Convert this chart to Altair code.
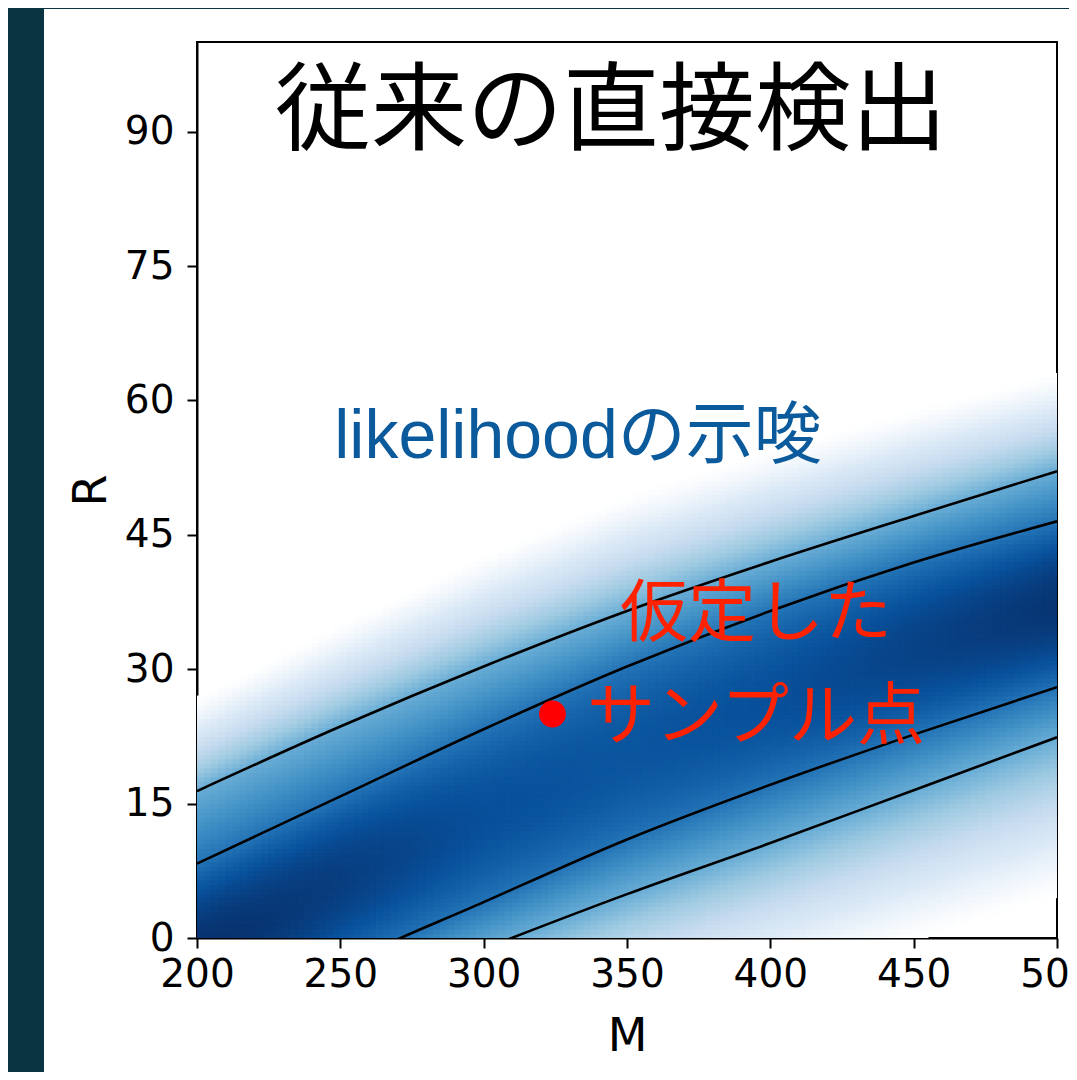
import numpy as np
import pandas as pd
import altair as alt

# ---- values ----
M_ticks = [200, 250, 300, 350, 400, 450, 500]
R_ticks = [0, 15, 30, 45, 60, 75, 90]

# contour lines, read at these M values (parts below R=0 are hidden by the axis)
M_knots = [200, 250, 300, 350, 400, 450, 500]
A_R = [16.4, 23.6, 30.3, 36.5, 42.0, 47.1, 52.1]     # upper outer
B_R = [8.3, 15.8, 23.3, 30.3, 36.5, 41.9, 46.5]      # upper inner
C_R = [-13.0, -3.2, 4.0, 11.0, 17.1, 22.7, 28.0]     # lower inner
D_R = [-19.0, -7.5, -1.2, 4.9, 10.6, 16.5, 22.4]     # lower outer

# shading: darkest level on the ridge, levels at the
# contours, and how far the light blue reaches beyond the outer contours
peak_level = [1.0, 0.95, 0.88, 0.86, 0.88, 0.93, 0.98]
inner_level = 0.74
outer_level = 0.51
fade_up = [10.5, 11.5, 12.5, 13.0, 12.5, 12.0, 11.0]
fade_down = [15.0, 15.0, 15.0, 15.0, 16.0, 17.0, 18.0]

sample_M = [324]
sample_R = [25]

title_text = "従来の直接検出"
blue_text = "likelihoodの示唆"
red_lines = ["仮定した", "サンプル点"]

blues = ["#ffffff", "#deebf7", "#c6dbef", "#9ecae1", "#6baed6",
         "#4292c6", "#2171b5", "#08519c", "#08306b"]

# ---- heat grid ----
dM, dR = 2.5, 0.5
Ms = np.arange(200, 500, dM)
Rs = np.arange(0, 100, dR)
MM, RR = np.meshgrid(Ms, Rs)
mc = MM + dM / 2
rc = RR + dR / 2
a = np.interp(mc, M_knots, A_R)
b = np.interp(mc, M_knots, B_R)
cc = np.interp(mc, M_knots, C_R)
d = np.interp(mc, M_knots, D_R)
pk = np.interp(mc, M_knots, peak_level)
fu = np.interp(mc, M_knots, fade_up)
fd = np.interp(mc, M_knots, fade_down)
mid = (b + cc) / 2

# upper side
u = np.clip((rc - mid) / (b - mid), 0, None)
v_in = pk - (pk - inner_level) * u ** 2
w = np.clip((rc - b) / (a - b), 0, 1)
v_band = inner_level + (outer_level - inner_level) * w
x = np.clip((rc - a) / fu, 0, 1)
v_out = outer_level * (1 - x) ** 1.3
v_up = np.where(u <= 1, v_in, np.where(rc <= a, v_band, v_out))

# lower side
u2 = np.clip((mid - rc) / (mid - cc), 0, None)
v_in2 = pk - (pk - inner_level) * u2 ** 2
w2 = np.clip((cc - rc) / (cc - d), 0, 1)
v_band2 = inner_level + (outer_level - inner_level) * w2
x2 = np.clip((d - rc) / fd, 0, 1)
v_out2 = outer_level * (1 - x2) ** 1.3
v_dn = np.where(u2 <= 1, v_in2, np.where(rc >= d, v_band2, v_out2))

v = np.clip(np.where(rc >= mid, v_up, v_dn), 0, 1)

heat = pd.DataFrame({"M": MM.ravel(), "R": RR.ravel(), "v": np.round(v.ravel(), 3)})
heat = heat[heat.v > 0.002]

xscale = alt.Scale(domain=[200, 500], nice=False, zero=False)
yscale = alt.Scale(domain=[0, 100], nice=False, zero=False)
cscale = alt.Scale(domain=list(np.linspace(0, 1, 9)), range=blues, clamp=True,
                   interpolate="rgb")

xaxis = alt.Axis(values=M_ticks, title="M", grid=False, labelFlush=False,
                 labelPadding=7, titlePadding=20)
yaxis = alt.Axis(values=R_ticks, title="R", grid=False, labelFlush=False,
                 labelPadding=13, titlePadding=9)

heat_layer = alt.Chart(heat).mark_rect(strokeWidth=1, clip=True).transform_calculate(
    M2=f"datum.M + {dM}", R2=f"datum.R + {dR}"
).encode(
    x=alt.X("M:Q", scale=xscale, axis=xaxis),
    x2="M2:Q",
    y=alt.Y("R:Q", scale=yscale, axis=yaxis),
    y2="R2:Q",
    fill=alt.Fill("v:Q", scale=cscale, legend=None),
    stroke=alt.Stroke("v:Q", scale=cscale, legend=None),
)

cont = pd.concat([
    pd.DataFrame({"M": M_knots, "R": A_R, "curve": "A"}),
    pd.DataFrame({"M": M_knots, "R": B_R, "curve": "B"}),
    pd.DataFrame({"M": M_knots, "R": C_R, "curve": "C"}),
    pd.DataFrame({"M": M_knots, "R": D_R, "curve": "D"}),
])
lines = alt.Chart(cont).mark_line(color="black", strokeWidth=2.6,
                                  interpolate="monotone", clip=True).encode(
    x=alt.X("M:Q", scale=xscale), y=alt.Y("R:Q", scale=yscale), detail="curve:N")

dot = alt.Chart(pd.DataFrame({"M": sample_M, "R": sample_R})).mark_circle(
    size=720, color="#ff0000", opacity=1).encode(
    x=alt.X("M:Q", scale=xscale), y=alt.Y("R:Q", scale=yscale))

texts = pd.DataFrame({
    "M": [344.4, 332.9, 395, 395],
    "R": [88.8, 53.6, 33.7, 22.2],
    "label": [title_text, blue_text, red_lines[0], red_lines[1]],
    "kind": ["title", "blue", "red", "red"],
})

title_layer = alt.Chart(texts[texts.kind == "title"]).mark_text(
    font="Noto Sans CJK JP", fontSize=96, align="center", baseline="alphabetic",
    color="black").encode(x=alt.X("M:Q", scale=xscale), y=alt.Y("R:Q", scale=yscale), text="label:N")
blue_layer = alt.Chart(texts[texts.kind == "blue"]).mark_text(
    font="Liberation Sans, Noto Sans CJK JP", fontSize=68, align="center",
    baseline="alphabetic", color="#0b5a9c").encode(
    x=alt.X("M:Q", scale=xscale), y=alt.Y("R:Q", scale=yscale), text="label:N")
red_layer = alt.Chart(texts[texts.kind == "red"]).mark_text(
    font="Noto Sans CJK JP", fontSize=68, align="center", baseline="alphabetic",
    color="#ff2200").encode(x=alt.X("M:Q", scale=xscale), y=alt.Y("R:Q", scale=yscale), text="label:N")

one = pd.DataFrame({"k": [0]})
frame_left = alt.Chart(one).mark_rect(color="#0a3441").encode(
    x=alt.value(-189), x2=alt.value(-153), y=alt.value(-34), y2=alt.value(1030))
frame_top = alt.Chart(one).mark_rect(color="#0a3441").encode(
    x=alt.value(-189), x2=alt.value(872), y=alt.value(-34), y2=alt.value(-33))

chart = alt.layer(heat_layer, lines, dot, title_layer, blue_layer, red_layer,
                  frame_left, frame_top).properties(
    width=860, height=896,
    autosize=alt.AutoSizeParams(type="none"),
    padding={"left": 189, "top": 34, "right": 12, "bottom": 134},
    background="white",
).configure_view(stroke="black", strokeWidth=2).configure_axis(
    labelFont="DejaVu Sans", labelFontSize=39, labelColor="black",
    titleFont="DejaVu Sans", titleFontSize=46, titleFontWeight="normal", titleColor="black",
    tickSize=10, tickWidth=2, tickColor="black", domainColor="black", domainWidth=2,
)

chart.save("out.html", embed_options={"renderer": "svg", "actions": False})
